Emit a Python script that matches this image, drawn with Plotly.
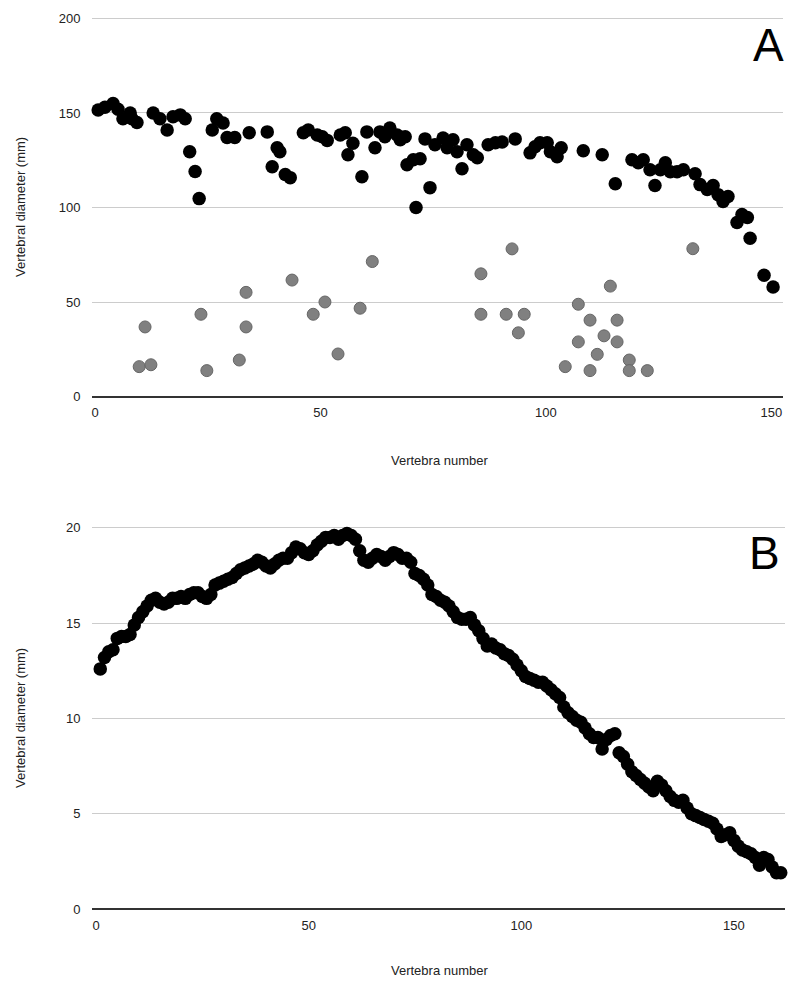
import plotly.graph_objects as go

# ---------- Chart A data ----------
a_black_x = [0.7, 2.2, 4.0, 5.1, 6.2, 7.8, 8.2, 9.3, 12.9, 14.4, 16.0, 17.3, 18.9, 20.0, 21.0, 22.2, 23.1,
             26.0, 27.0, 28.4, 29.3, 31.0, 34.2, 38.2, 39.3, 40.4, 41.0, 42.2, 43.3, 46.2, 47.3, 49.3, 50.4,
             51.5, 54.4, 55.5, 56.1, 57.2, 59.2, 60.3, 62.1, 63.2, 64.3, 65.4, 67.0, 67.7, 68.8, 69.2, 70.6,
             71.2, 72.1, 73.2, 74.3, 75.4, 77.2, 78.1, 79.4, 80.3, 81.4, 82.5, 83.9, 84.8, 87.2, 88.8, 90.3,
             93.2, 96.5, 97.6, 98.7, 100.3, 101.0, 102.5, 103.4, 108.3, 112.5, 115.4, 119.1, 120.5, 121.6,
             123.1, 124.2, 125.4, 126.5, 127.6, 129.1, 130.5, 133.1, 134.2, 135.8, 137.1, 138.2, 139.3,
             140.4, 142.4, 143.5, 144.7, 145.3, 148.4, 150.4]
a_black_y = [151.6, 153.0, 155.0, 152.0, 147.0, 150.0, 147.0, 145.0, 150.0, 147.0, 141.0, 148.0, 149.0, 147.0,
             129.5, 119.0, 104.7, 141.0, 147.0, 144.7, 137.0, 137.0, 139.5, 140.0, 121.6, 131.6, 129.5, 117.4,
             115.8, 139.5, 141.0, 138.4, 137.4, 135.5, 138.4, 139.5, 127.9, 134.0, 116.3, 140.0, 131.6, 140.0,
             137.4, 142.0, 138.4, 135.8, 137.4, 122.6, 125.3, 100.0, 125.8, 136.3, 110.5, 133.2, 136.8, 131.6,
             135.8, 129.5, 120.5, 133.2, 127.9, 126.3, 133.2, 134.2, 134.7, 136.3, 128.9, 132.1, 134.2, 134.2,
             129.5, 126.8, 131.6, 130.0, 127.9, 112.6, 125.3, 123.7, 125.3, 120.0, 111.6, 120.0, 123.7, 118.9,
             118.9, 120.0, 117.9, 112.1, 109.5, 111.6, 106.8, 103.2, 105.8, 92.1, 96.3, 94.7, 83.7, 64.2, 57.9]

a_gray_x = [9.8, 11.1, 12.4, 23.5, 24.8, 32.0, 33.5, 33.5, 43.7, 48.4, 51.0, 53.9, 58.8, 61.5, 85.6, 85.6,
            91.2, 92.5, 93.9, 95.2, 104.3, 107.2, 107.2, 109.8, 109.8, 111.4, 112.9, 114.3, 115.8, 115.8,
            118.5, 118.5, 122.5, 132.6]
a_gray_y = [15.8, 36.8, 16.8, 43.5, 13.7, 19.3, 55.1, 36.8, 61.6, 43.5, 50.0, 22.5, 46.7, 71.4, 64.9, 43.5,
            43.5, 78.1, 33.7, 43.5, 15.8, 48.8, 28.9, 40.4, 13.7, 22.3, 32.1, 58.4, 40.4, 28.9,
            19.3, 13.7, 13.7, 78.2]

# ---------- Chart B data ----------
b_y = [12.6, 13.2, 13.5, 13.6, 14.2, 14.3, 14.3, 14.4, 14.9, 15.3, 15.6, 15.9, 16.2, 16.3, 16.1, 16.0, 16.1,
       16.3, 16.3, 16.4, 16.3, 16.5, 16.6, 16.6, 16.4, 16.3, 16.5, 17.0, 17.1, 17.2, 17.3, 17.4, 17.6, 17.8,
       17.9, 18.0, 18.1, 18.3, 18.2, 18.0, 17.9, 18.1, 18.3, 18.4, 18.4, 18.7, 19.0, 18.9, 18.7, 18.6, 18.8,
       19.1, 19.3, 19.5, 19.5, 19.6, 19.4, 19.6, 19.7, 19.6, 19.4, 18.8, 18.3, 18.2, 18.4, 18.6, 18.5, 18.3,
       18.5, 18.7, 18.6, 18.4, 18.4, 18.2, 17.6, 17.5, 17.3, 17.0, 16.5, 16.4, 16.2, 16.1, 15.9, 15.6, 15.3,
       15.2, 15.2, 15.3, 14.9, 14.6, 14.2, 13.8, 13.9, 13.7, 13.6, 13.4, 13.3, 13.1, 12.8, 12.5, 12.2, 12.1,
       12.0, 11.9, 11.9, 11.7, 11.5, 11.3, 11.1, 10.6, 10.3, 10.1, 9.9, 9.8, 9.5, 9.2, 9.0, 9.0, 8.4, 8.9,
       9.1, 9.2, 8.2, 8.0, 7.6, 7.2, 7.0, 6.8, 6.6, 6.4, 6.2, 6.7, 6.5, 6.2, 5.9, 5.7, 5.6, 5.7, 5.3, 5.0,
       4.9, 4.8, 4.7, 4.6, 4.5, 4.2, 3.8, 3.9, 4.0, 3.6, 3.3, 3.1, 3.0, 2.9, 2.7, 2.3, 2.7, 2.6, 2.2, 1.9, 1.9]
b_x = list(range(1, len(b_y) + 1))

a_yticks = [0, 50, 100, 150, 200]
b_yticks = [0, 5, 10, 15, 20]
xticks = [0, 50, 100, 150]

FONT = "Liberation Sans, Arial, sans-serif"
OFF = 8  # page body margin
W, H = 800 - 2 * OFF, 990 - 2 * OFF

fig = go.Figure()
fig.add_trace(go.Scatter(x=a_gray_x, y=a_gray_y, mode="markers", xaxis="x", yaxis="y",
                         marker=dict(size=12, color="#808080", line=dict(color="#666666", width=1)),
                         showlegend=False, cliponaxis=False))
fig.add_trace(go.Scatter(x=a_black_x, y=a_black_y, mode="markers", xaxis="x", yaxis="y",
                         marker=dict(size=13.5, color="#000000"), showlegend=False, cliponaxis=False))
fig.add_trace(go.Scatter(x=b_x, y=b_y, mode="markers", xaxis="x2", yaxis="y2",
                         marker=dict(size=13.5, color="#000000"), showlegend=False, cliponaxis=False))


def px(v):
    return (v - OFF) / W


def py(v):
    return 1 - (v - OFF) / H


common_x = dict(tickmode="array", tickvals=xticks, showgrid=False, zeroline=False, automargin=False,
                showline=False, ticks="outside", ticklen=4, tickcolor="rgba(0,0,0,0)",
                tickfont=dict(family=FONT, size=13, color="#222"))
common_y = dict(tickmode="array", showgrid=True, gridcolor="#cccccc", gridwidth=1, automargin=False,
                zeroline=True, zerolinecolor="#333333", zerolinewidth=1.5, showline=False,
                ticks="outside", ticklen=8, tickcolor="rgba(0,0,0,0)",
                tickfont=dict(family=FONT, size=13, color="#222"))

ann_font = dict(family=FONT, size=13, color="#222")
fig.update_layout(
    width=W, height=H, margin=dict(l=0, r=0, t=0, b=0, autoexpand=False),
    paper_bgcolor="white", plot_bgcolor="white",
    xaxis=dict(domain=[px(92), px(783)], range=[-0.67, 152.6], anchor="y", **common_x),
    yaxis=dict(domain=[py(396.5), py(14.7)], range=[0, 202], tickvals=a_yticks, anchor="x", **common_y),
    xaxis2=dict(domain=[px(92), px(785)], range=[-0.94, 162.0], anchor="y2", **common_x),
    yaxis2=dict(domain=[py(909), py(525)], range=[0, 20.15], tickvals=b_yticks, anchor="x2", **common_y),
    annotations=[
        dict(text="Vertebral diameter (mm)", x=px(20), y=py(207), textangle=-90, font=ann_font),
        dict(text="Vertebra number", x=px(440), y=py(460), font=ann_font),
        dict(text="Vertebral diameter (mm)", x=px(20), y=py(718), textangle=-90, font=ann_font),
        dict(text="Vertebra number", x=px(440), y=py(970), font=ann_font),
        dict(text="A", x=px(768), y=py(45), font=dict(family=FONT, size=46, color="#000")),
        dict(text="B", x=px(764), y=py(553), font=dict(family=FONT, size=46, color="#000")),
    ],
)
fig.update_annotations(xref="paper", yref="paper", showarrow=False, xanchor="center", yanchor="middle")

fig.write_html("out.html")
